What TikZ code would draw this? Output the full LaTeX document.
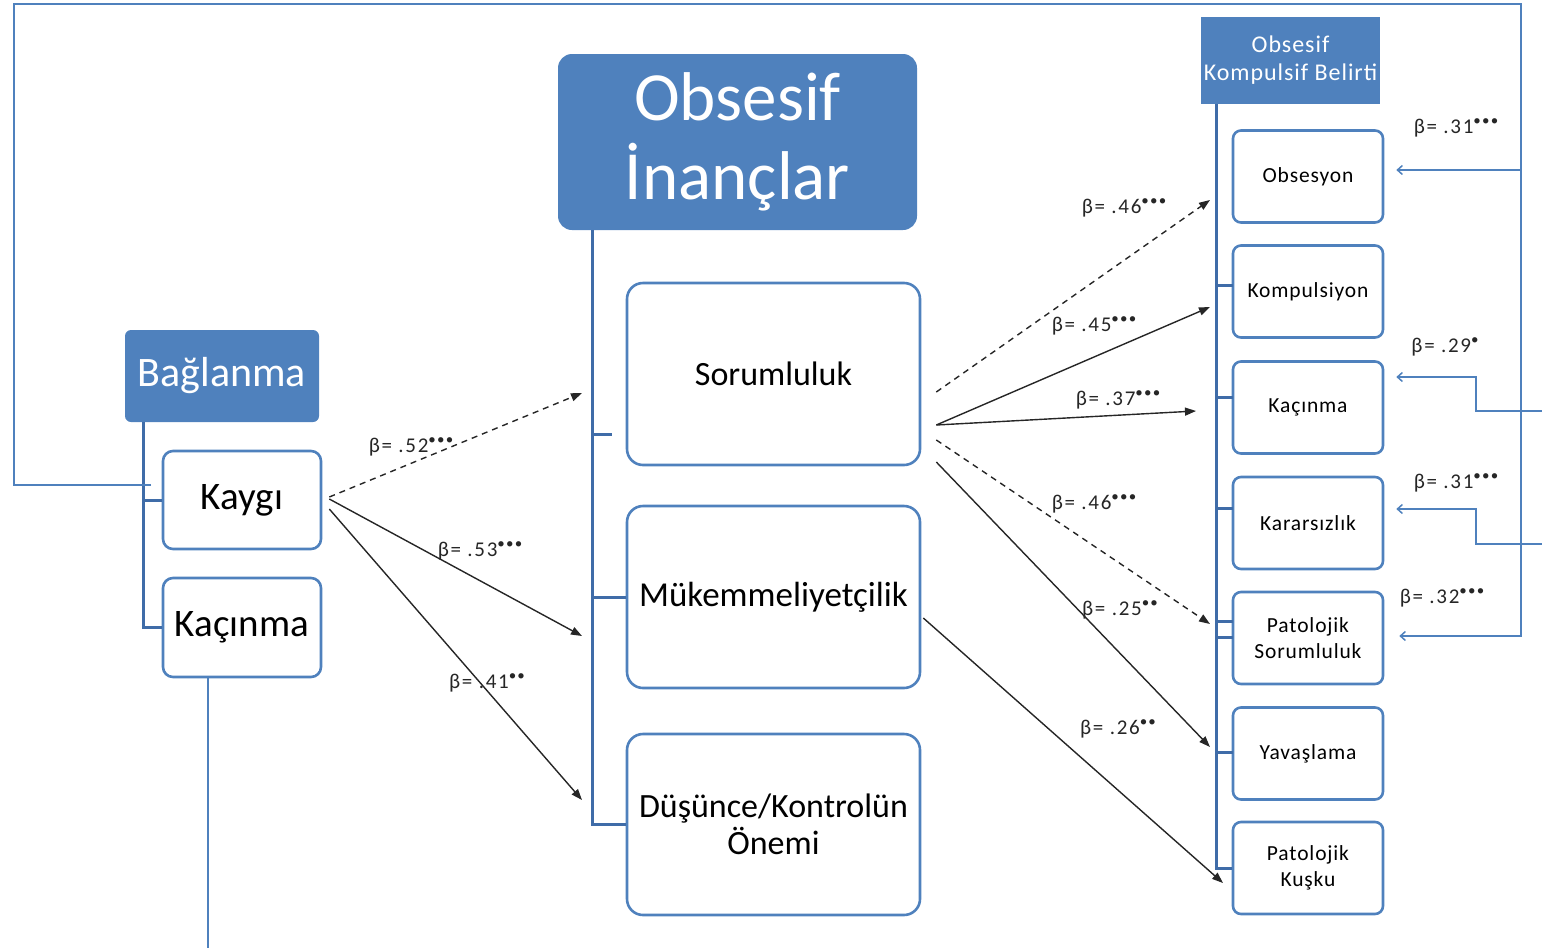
\documentclass[tikz,border=0pt]{standalone}
\usepackage{fontspec}
\setmainfont{Carlito}
\newfontfamily\betafont[LetterSpace=8]{Carlito}
\newfontfamily\widefont[LetterSpace=4]{Carlito}
\usetikzlibrary{arrows.meta,calc}
\definecolor{hdr}{HTML}{4F81BD}
\definecolor{edge}{HTML}{4F81BD}
\definecolor{trunk}{HTML}{3F6CA8}
\definecolor{fbblue}{HTML}{4F81BD}
\newcommand{\fs}[2]{\fontsize{#1}{#2}\selectfont}
% significance marks: raised bullets
\newcommand{\sig}[1]{\raisebox{0.40em}{\fs{15}{15}#1}}
\begin{document}
\begin{tikzpicture}[x=1pt,y=-1pt,
  hdrbox/.style={fill=hdr, draw=none, text=white, align=center, inner sep=0pt},
  itembox/.style={draw=edge, line width=2.6pt, rounded corners=10pt, fill=white, align=center, inner sep=0pt},
  bigbox/.style={itembox, rounded corners=16pt, minimum width=293pt, minimum height=182pt},
  smallbox/.style={itembox, rounded corners=8pt, minimum width=150pt, minimum height=92pt, font=\widefont\fs{21.5}{26}},
  trunkline/.style={draw=trunk, line width=3pt},
  solidarrow/.style={draw=black!85, line width=1.4pt, -{Triangle[length=11pt,width=8pt]}},
  dasharrow/.style={solidarrow, dash pattern=on 6pt off 5pt},
  fbline/.style={draw=fbblue, line width=1.5pt},
  fbarrow/.style={fbline, -{Straight Barb[length=5pt,width=9pt]}},
  beta/.style={font=\betafont\fs{21}{21}, text=black!85, inner sep=0pt}
]
\useasboundingbox (0,0) rectangle (1542,948);

% ---------- Bağlanma ----------
\node[hdrbox, rounded corners=6pt, minimum width=194pt, minimum height=92pt, font=\fs{42}{46}] (bag) at (222,376) {Bağlanma};
\node[itembox, minimum width=158pt, minimum height=98pt, font=\fs{39}{42}] (kay) at (242,500) {Kaygı};
\node[itembox, minimum width=158pt, minimum height=99pt, font=\fs{39}{42}] (kac) at (242,627.5) {Kaçınma};
\draw[trunkline] (143,422) -- (143,627.5) -- (kac.west);
\draw[trunkline] (143,500) -- (kay.west);

% ---------- Obsesif İnançlar ----------
\node[hdrbox, rounded corners=14pt, minimum width=359pt, minimum height=176pt, font=\fs{69}{79}] (oi) at (737.5,142) {Obsesif\\İnançlar};
\node[bigbox, font=\fs{34}{38}] (sor) at (773.5,374) {Sorumluluk};
\node[bigbox, font=\fs{35}{38}] (muk) at (773.5,597) {Mükemmeliyetçilik};
\node[bigbox, minimum height=181pt, font=\fs{34}{37}] (dus) at (773.5,824.5) {Düşünce/Kontrolün\\Önemi};
\draw[trunkline] (592,230) -- (592,824.5) -- (dus.west);
\draw[trunkline] (592,597) -- (muk.west);
\draw[trunkline] (592,434) -- (612,434);

% ---------- Obsesif Kompulsif Belirti ----------
\node[hdrbox, minimum width=179pt, minimum height=87pt, font=\widefont\fs{24}{28}] (okb) at (1290.5,60.5) {Obsesif\\Kompulsif Belirti};
\node[smallbox] (obs) at (1308,176.5) {Obsesyon};
\node[smallbox] (kom) at (1308,291.5) {Kompulsiyon};
\node[smallbox] (kc2) at (1308,407.5) {Kaçınma};
\node[smallbox] (kar) at (1308,523) {Kararsızlık};
\node[smallbox] (pso) at (1308,638) {Patolojik\\Sorumluluk};
\node[smallbox] (yav) at (1308,753.5) {Yavaşlama};
\node[smallbox] (pku) at (1308,868) {Patolojik\\Kuşku};
\draw[trunkline] (1216,104) -- (1216,868) -- (pku.west);
\foreach \yy in {285,397,508,621,637,752}
  \draw[trunkline] (1216,\yy) -- (1233,\yy);

% ---------- paths from Kaygı ----------
\coordinate (a1) at (582,393);
\coordinate (a2) at (582,636);
\coordinate (a3) at (582,800);
\draw[dasharrow] ($(kay.east)+(7,-3)$) -- (a1);
\draw[solidarrow] ($(kay.east)+(7,-1)$) -- (a2);
\draw[solidarrow] ($(kay.east)+(7,9)$) -- (a3);
\node[beta] at (411,447) {β= .52\sig{•••}};
\node[beta] at (480,551) {β= .53\sig{•••}};
\node[beta] at (487,683) {β= .41\sig{••}};

% ---------- paths to the symptoms ----------
\coordinate (b1) at (1210,200);
\coordinate (b2) at (1210,307);
\coordinate (b3) at (1196,411);
\coordinate (b4) at (1210,624);
\coordinate (b5) at (1210,747);
\coordinate (b6) at (1223,883);
\draw[dasharrow] ($(sor.east)+(15,18)$) -- (b1);
\draw[solidarrow] ($(sor.east)+(15,51)$) -- (b2);
\draw[solidarrow] ($(sor.east)+(15,51)$) -- (b3);
\draw[dasharrow] ($(sor.east)+(15,66)$) -- (b4);
\draw[solidarrow] ($(sor.east)+(15,88)$) -- (b5);
\draw[solidarrow] ($(muk.east)+(2,21)$) -- (b6);
\node[beta] at (1124,208) {β= .46\sig{•••}};
\node[beta] at (1094,326) {β= .45\sig{•••}};
\node[beta] at (1118,400) {β= .37\sig{•••}};
\node[beta] at (1094,504) {β= .46\sig{•••}};
\node[beta] at (1120,610) {β= .25\sig{••}};
\node[beta] at (1118,729) {β= .26\sig{••}};

% ---------- attachment paths ----------
\coordinate (c0) at (151,485);
\coordinate (c1) at ($(obs.east)+(12,-6.5)$);
\coordinate (c2) at ($(kc2.east)+(12,-30.5)$);
\coordinate (c3) at ($(kar.east)+(12,-14)$);
\coordinate (c4) at ($(pso.east)+(15,-2)$);
\coordinate (k0) at ($(kac.south)+(-34,0)$);
\draw[fbarrow] (c0) -- (14,485) -- (14,4) -- (1521,4) -- (1521,636) -- (c4);
\draw[fbarrow] (1521,170) -- (c1);
\draw[fbarrow] (1542,411) -- (1476,411) -- (1476,377) -- (c2);
\draw[fbarrow] (1542,544) -- (1476,544) -- (1476,509) -- (c3);
\draw[fbline] (k0) -- (208,948);
\node[beta] at (1456,128) {β= .31\sig{•••}};
\node[beta] at (1445,347) {β= .29\sig{•}};
\node[beta] at (1456,483) {β= .31\sig{•••}};
\node[beta] at (1442,598) {β= .32\sig{•••}};
\end{tikzpicture}
\end{document}
